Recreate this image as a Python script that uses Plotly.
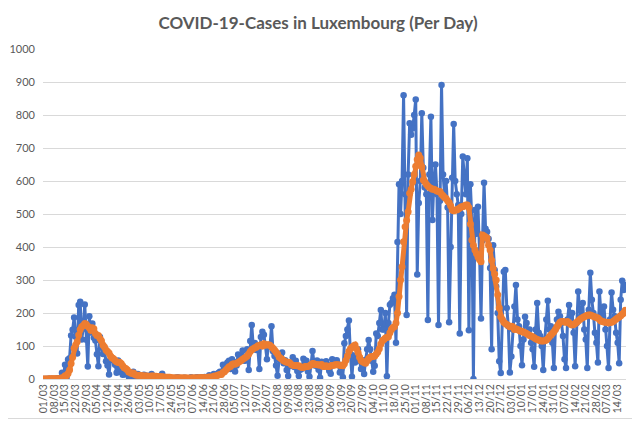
import plotly.graph_objects as go
import pandas as pd

# daily new cases, one row per week (Sun..Sat), starting 01/03/2020
daily_cases = [
    0, 0, 0, 1, 1, 0, 1,
    0, 0, 2, 2, 1, 19, 8,
    43, 4, 59, 63, 132, 149, 186,
    128, 77, 224, 234, 120, 152, 226,
    119, 38, 190, 141, 168, 125, 117,
    75, 39, 127, 97, 76, 83, 54,
    41, 14, 58, 64, 56, 43, 19,
    56, 22, 30, 13, 14, 27, 16,
    7, 12, 7, 22, 10, 5, 15,
    4, 9, 9, 13, 7, 10, 2,
    8, 15, 8, 8, 5, 4, 3,
    9, 16, 2, 2, 1, 4, 3,
    2, 2, 3, 3, 5, 4, 2,
    1, 3, 4, 2, 2, 1, 5,
    2, 1, 4, 5, 3, 4, 5,
    3, 6, 4, 6, 11, 3, 7,
    15, 12, 12, 18, 22, 18, 43,
    29, 44, 50, 55, 30, 60, 52,
    23, 41, 74, 61, 63, 86, 55,
    56, 90, 27, 115, 164, 98, 109,
    88, 91, 30, 127, 143, 134, 100,
    60, 103, 97, 160, 84, 70, 41,
    10, 59, 76, 80, 48, 57, 27,
    9, 48, 40, 66, 36, 55, 24,
    9, 28, 31, 61, 56, 55, 23,
    7, 42, 85, 50, 40, 56, 28,
    4, 52, 42, 46, 54, 43, 25,
    16, 60, 47, 55, 57, 45, 20,
    30, 5, 108, 130, 150, 177, 76,
    7, 71, 50, 60, 90, 55, 30,
    45, 15, 58, 90, 118, 90, 55,
    22, 40, 138, 130, 170, 209, 150,
    150, 200, 8, 170, 225, 230, 245,
    255, 110, 415, 590, 500, 600, 860,
    560, 194, 620, 775, 740, 760, 800,
    847, 317, 533, 600, 805, 640, 580,
    560, 179, 620, 795, 482, 600, 650,
    560, 164, 540, 891, 620, 560, 600,
    520, 172, 400, 610, 773, 600, 560,
    527, 138, 500, 674, 610, 560, 669,
    148, 590, 480, 0, 512, 440, 522,
    390, 183, 420, 595, 455, 446, 425,
    336, 90, 405, 330, 280, 200, 54,
    18, 180, 325, 330, 215, 160, 20,
    68, 150, 220, 285, 180, 160, 100,
    42, 120, 189, 170, 140, 150, 110,
    90, 37, 150, 230, 140, 130, 100,
    27, 120, 180, 237, 150, 160, 110,
    33, 150, 180, 204, 190, 170, 130,
    60, 33, 180, 224, 190, 200, 140,
    39, 170, 265, 210, 190, 230, 150,
    120, 33, 210, 322, 240, 200, 140,
    110, 50, 265, 200, 190, 220, 150,
    100, 33, 180, 262, 210, 190, 140,
    110, 48, 240, 298, 270, 285,
]

# 7-day average as drawn (orange)
avg_cases = [
    0, 0, 0, 0, 1, 1, 1,
    1, 1, 1, 1, 1, 4, 4,
    10, 10, 17, 27, 47, 66, 93,
    103, 113, 133, 150, 158, 162, 168,
    166, 160, 155, 148, 155, 152, 138,
    132, 132, 123, 116, 103, 97, 88,
    83, 79, 69, 64, 61, 56, 52,
    50, 51, 47, 40, 34, 32, 28,
    21, 20, 17, 18, 14, 11, 11,
    11, 10, 10, 9, 9, 9, 7,
    8, 9, 9, 8, 8, 7, 7,
    7, 7, 6, 5, 5, 5, 5,
    4, 3, 3, 3, 3, 3, 3,
    3, 3, 3, 3, 2, 2, 3,
    3, 3, 3, 3, 3, 4, 4,
    4, 4, 4, 5, 6, 5, 6,
    8, 9, 10, 12, 14, 14, 20,
    22, 27, 32, 37, 38, 44, 46,
    45, 47, 50, 53, 56, 60, 63,
    66, 70, 76, 83, 89, 92, 95,
    96, 101, 101, 104, 100, 107, 102,
    104, 104, 102, 98, 93, 88, 82,
    76, 67, 63, 60, 55, 53, 51,
    51, 49, 44, 42, 41, 41, 40,
    40, 37, 35, 35, 38, 38, 38,
    40, 43, 47, 46, 44, 43, 43,
    42, 44, 38, 38, 40, 38, 38,
    40, 41, 42, 43, 43, 43, 42,
    41, 40, 46, 57, 70, 84, 92,
    96, 100, 103, 92, 80, 66, 56,
    52, 50, 48, 55, 62, 66, 68,
    68, 70, 76, 82, 92, 106, 116,
    120, 124, 126, 128, 140, 150, 156,
    158, 170, 200, 250, 300, 340, 416,
    461, 480, 507, 563, 575, 598, 620,
    645, 665, 679, 670, 643, 603, 598,
    590, 585, 580, 578, 575, 575, 573,
    570, 568, 568, 560, 555, 550, 547,
    540, 535, 525, 512, 510, 512, 512,
    515, 518, 522, 522, 525, 527, 527,
    520, 470, 421, 405, 391, 380, 370,
    362, 355, 436, 433, 430, 427, 405,
    391, 360, 335, 318, 300, 255, 215,
    189, 180, 172, 168, 165, 162, 158,
    160, 158, 150, 152, 150, 148, 145,
    145, 142, 140, 138, 135, 132, 130,
    128, 125, 122, 120, 118, 116, 115,
    115, 116, 118, 122, 128, 133, 138,
    143, 150, 158, 165, 172, 174, 174,
    173, 172, 174, 170, 166, 164, 165,
    168, 172, 176, 180, 183, 186, 189,
    191, 193, 194, 194, 192, 190, 188,
    186, 185, 180, 176, 174, 173, 172,
    171, 170, 171, 172, 174, 178, 182,
    185, 188, 192, 196, 200, 208,
]

dates = pd.date_range("2020-03-01", periods=len(daily_cases), freq="D")

# the page puts the figure 8px in from the top-left corner
W, H = 632, 417
L, R, T, B = 35, 14, 41, 46
grey = "#D9D9D9"
txt = "#595959"

fig = go.Figure()
fig.add_trace(go.Scatter(
    x=dates, y=daily_cases, mode="lines+markers", name="Cases",
    line=dict(color="#4472C4", width=3),
    marker=dict(color="#4472C4", size=6.5),
))
fig.add_trace(go.Scatter(
    x=dates, y=avg_cases, mode="lines+markers", name="7-day average",
    line=dict(color="#ED7D31", width=5),
    marker=dict(color="#ED7D31", size=7),
))

pw = W - L - R
ph = H - T - B
# outer chart border (right and bottom edges are the visible ones)
fig.add_shape(type="rect", xref="paper", yref="paper",
              x0=(-9 - L) / pw, x1=(W - 2.5 - L) / pw,
              y0=-(B - 6.5) / ph, y1=(H - B + 9) / ph,
              line=dict(color=grey, width=1), layer="below")

fig.update_layout(
    width=W, height=H,
    margin=dict(l=L, r=R, t=T, b=B),
    paper_bgcolor="white", plot_bgcolor="white",
    showlegend=False,
    font=dict(family="Lato", color=txt),
    title=dict(text="COVID-19-Cases in Luxembourg (Per Day)",
               x=(318 - 8) / W, xanchor="center", y=1 - 15 / H, yanchor="middle",
               font=dict(family="Lato", size=17, color=txt, weight="bold")),
)
fig.update_xaxes(
    type="date",
    range=[dates[0] - pd.Timedelta(hours=12), dates[-1] + pd.Timedelta(hours=12)],
    tick0="2020-03-01", dtick=7 * 86400000, tickformat="%d/%m",
    tickangle=-90, tickfont=dict(size=10.5, color=txt),
    showgrid=False, showline=True, linecolor=grey, linewidth=1,
    ticks="", automargin=False, zeroline=False,
)
fig.update_yaxes(
    range=[0, 1000], dtick=100,
    showgrid=True, gridcolor=grey, gridwidth=1,
    showline=False, zeroline=False, ticks="",
    tickfont=dict(size=11, color=txt), ticklabelstandoff=7,
    automargin=False,
)

fig.write_html("out.html")
